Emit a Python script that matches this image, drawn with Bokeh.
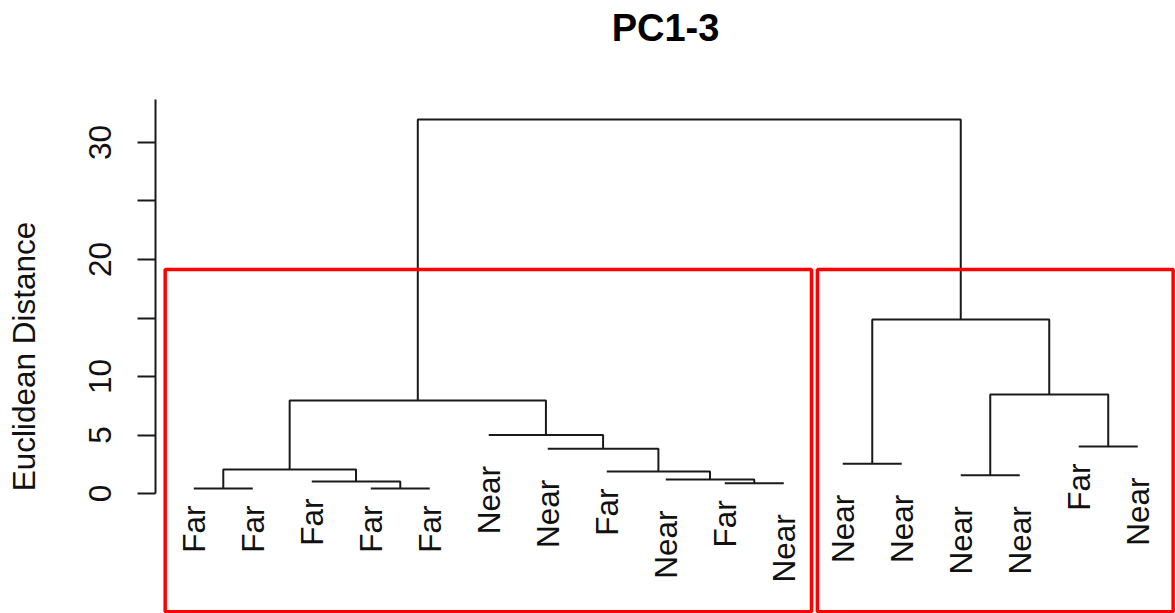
import numpy as np
from bokeh.plotting import figure
from bokeh.models import FixedTicker, ColumnDataSource, Title
from bokeh.embed import file_html
from bokeh.resources import INLINE
from bokeh.core.properties import value

# ---- data ----
leaf_labels = ["Far", "Far", "Far", "Far", "Far", "Near", "Near", "Far", "Near", "Far", "Near",
               "Near", "Near", "Near", "Near", "Far", "Near"]
# hclust-style merge table: negative = leaf position, positive = earlier merge step
merge_left = [-1, -4, -3, 1, -10, -9, -8, -7, -6, 4, -14, -12, -16, 11, 12, 10]
merge_right = [-2, -5, 2, 3, -11, 5, 6, 7, 8, 9, -15, -13, -17, 13, 14, 15]
merge_height = [0.43, 0.43, 1.03, 2.05, 0.88, 1.20, 1.88, 3.82, 5.00, 7.95,
                1.56, 2.54, 4.02, 8.46, 14.87, 31.97]
y_ticks = [0, 5, 10, 15, 20, 25, 30]
y_tick_labels = ["0", "5", "10", "", "20", "", "30"]
# highlight boxes (data units)
box_x0 = [0.515, 11.57]
box_x1 = [11.47, 17.60]
box_top = [19.15, 19.15]
box_bottom = [-10.1, -10.1]

FONT = "Liberation Sans"
FS = "31.5px"

# ---- dendrogram geometry ----
node_x, node_h = {}, {}
leaf_y = {}
xs, ys = [], []
for k, (a, b, h) in enumerate(zip(merge_left, merge_right, merge_height), start=1):
    pts = []
    for c in (a, b):
        if c < 0:
            pts.append((float(-c), h))
            leaf_y[-c] = h
        else:
            pts.append((node_x[c], node_h[c]))
    (xl, hl), (xr, hr) = pts
    xs.append([xl, xl, xr, xr])
    ys.append([hl, h, h, hr])
    node_x[k] = (xl + xr) / 2
    node_h[k] = h

pad = {"Far": 17, "Near": 31}
lab_src = ColumnDataSource(dict(
    x=[float(i) for i in range(1, len(leaf_labels) + 1)],
    y=[leaf_y[i] for i in range(1, len(leaf_labels) + 1)],
    text=leaf_labels,
    off=[pad[l] for l in leaf_labels],
))

p = figure(width=1175, height=613, output_backend="svg", toolbar_location=None, title=None,
           x_range=(0.351, 17.64), y_range=(-10.256, 33.675),
           min_border_left=155, min_border_right=0, min_border_bottom=0, min_border_top=99)
p.outline_line_color = None
p.grid.visible = False
p.xaxis.visible = False

p.multi_line(xs, ys, line_color="#1a1a1a", line_width=2)
p.text(x="x", y="y", text="text", source=lab_src, angle=np.pi / 2,
       text_align="right", text_baseline="middle", y_offset="off",
       text_font=value(FONT), text_font_size=FS, text_color="#111111")

p.quad(left=box_x0, right=box_x1, top=box_top, bottom=box_bottom,
       fill_alpha=0, line_color="#ff0000", line_width=3.5)

ax = p.yaxis[0]
ax.ticker = FixedTicker(ticks=y_ticks, minor_ticks=[])
ax.major_label_overrides = {t: l for t, l in zip(y_ticks, y_tick_labels)}
ax.bounds = (0, 33.675)
ax.axis_line_width = 2
ax.axis_line_color = "#1a1a1a"
ax.major_tick_line_width = 2
ax.major_tick_line_color = "#1a1a1a"
ax.major_tick_out = 18
ax.major_tick_in = 0
ax.minor_tick_out = 0
ax.major_label_orientation = "vertical"
ax.major_label_standoff = 26
ax.major_label_text_font = FONT
ax.major_label_text_font_size = FS
ax.major_label_text_color = "#111111"
ax.axis_label = "Euclidean Distance"
ax.axis_label_text_font = FONT
ax.axis_label_text_font_size = FS
ax.axis_label_text_font_style = "normal"
ax.axis_label_text_color = "#111111"
ax.axis_label_standoff = 45

# spacer panel between frame and title (closest to the frame)
p.add_layout(Title(text=" ", text_font_size="2px", standoff=47), "above")
p.add_layout(Title(text="PC1-3", align="center", text_font=FONT, text_font_size="38px",
                   text_font_style="bold", text_color="#000000", standoff=0), "above")

open("out.html", "w").write(file_html(p, INLINE))
